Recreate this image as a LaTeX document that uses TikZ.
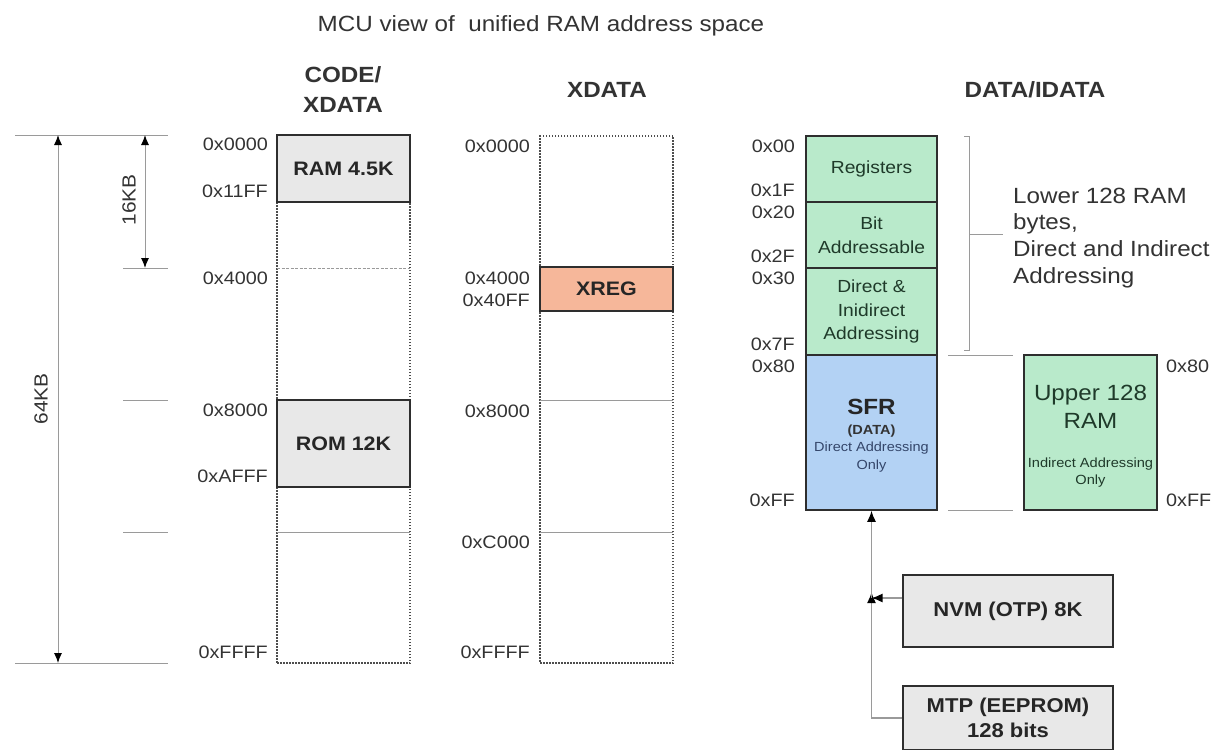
\documentclass[tikz,border=0pt]{standalone}
\usepackage{fontspec}
\setmainfont{Liberation Sans}[FakeStretch=1.1]
\usetikzlibrary{arrows.meta}
\definecolor{txt}{HTML}{333333}
\definecolor{boxgray}{HTML}{E8E8E8}
\definecolor{mint}{HTML}{B9EACB}
\definecolor{sfrblue}{HTML}{B3D2F4}
\definecolor{xregc}{HTML}{F6B79A}
\definecolor{edge}{HTML}{2E2E2E}
\definecolor{guidec}{HTML}{9A9A9A}
\definecolor{sfrtxt}{HTML}{34466A}
\definecolor{grntxt}{HTML}{1F3A2A}
\newcommand\fsz[2]{\fontsize{#1}{#2}\selectfont}
\begin{document}
\begin{tikzpicture}[x=1pt,y=-1pt,
  addrl/.style={anchor=base east,inner sep=0pt,text=txt,font=\fsz{18}{21}},
  addrr/.style={anchor=base west,inner sep=0pt,text=txt,font=\fsz{18}{21}},
  mhead/.style={anchor=base,inner sep=0pt,text=black!80,font=\fsz{22}{26}\bfseries},
  colframe/.style={draw=edge!85,line width=1.5pt,dash pattern=on 1.5pt off 1.5pt,inner sep=0pt,minimum width=133pt},
  memblk/.style={draw=edge,line width=1.5pt,inner sep=0pt,minimum width=133pt,text=black!85,align=center},
  graybox/.style={memblk,fill=boxgray,font=\fsz{19.5}{23}\bfseries},
  greenbox/.style={memblk,fill=mint,minimum width=131pt,text=grntxt,font=\fsz{17.5}{23.5}},
  sepline/.style={draw=guidec,line width=0.9pt},
  guideline/.style={draw=guidec,line width=1pt},
  dimline/.style={draw=guidec,line width=1pt,{Latex[length=10pt,width=8pt,color=black]}-{Latex[length=10pt,width=8pt,color=black]}},
  feedline/.style={draw=guidec,line width=1.5pt,-{Latex[length=11pt,width=9pt,color=black]}},
  mnote/.style={anchor=base west,inner sep=0pt,text=txt,font=\fsz{22}{27}},
  intext/.style={anchor=base,inner sep=0pt},
]
\useasboundingbox[fill=white] (0,0) rectangle (1217,749);

% title
\node[anchor=base,inner sep=0pt,font=\fsz{22}{26},text=txt] (title) at (541,32) {MCU view of\ \ unified RAM address space};

% headings
\node[mhead] (hcode1) at (343,83) {CODE/};
\node[mhead] (hcode2) at (343,113) {XDATA};
\node[mhead] (hxdata) at (607,98) {XDATA};
\node[mhead] (hdata) at (1035,98) {DATA/IDATA};

% left dimensions
\coordinate (dtopl) at (15,135);
\coordinate (dtopr) at (168,135);
\coordinate (dbotl) at (15,663);
\coordinate (dbotr) at (168,663);
\draw[guideline] (dtopl) -- (dtopr);
\draw[guideline] (dbotl) -- (dbotr);
\coordinate (m4l) at (123,268); \coordinate (m4r) at (168,268);
\coordinate (m8l) at (123,400); \coordinate (m8r) at (168,400);
\coordinate (mcl) at (123,532); \coordinate (mcr) at (168,532);
\draw[guideline] (m4l) -- (m4r);
\draw[guideline] (m8l) -- (m8r);
\draw[guideline] (mcl) -- (mcr);
\coordinate (a64t) at (58,135); \coordinate (a64b) at (58,663);
\coordinate (a16t) at (145,135); \coordinate (a16b) at (145,268);
\draw[dimline] (a64t) -- (a64b);
\draw[dimline] (a16t) -- (a16b);
\node[rotate=90,inner sep=0pt,text=txt,font=\fsz{19}{22}] (l64) at (41,399) {64KB};
\node[rotate=90,inner sep=0pt,text=txt,font=\fsz{19}{22}] (l16) at (129,200) {16KB};

% CODE/XDATA column
\node[colframe,minimum height=528pt] (codecol) at (343.5,399) {};
\draw[sepline,dash pattern=on 3pt off 1.5pt] (277,268) -- (410,268);
\draw[sepline] (277,532) -- (410,532);
\node[graybox,minimum height=67pt] (ram) at (343.5,168.5) {RAM 4.5K};
\node[graybox,minimum height=87pt] (rom) at (343.5,443.5) {ROM 12K};
\node[addrl] (c0) at (268,150) {0x0000};
\node[addrl] (c1) at (268,197) {0x11FF};
\node[addrl] (c2) at (268,284) {0x4000};
\node[addrl] (c3) at (268,416) {0x8000};
\node[addrl] (c4) at (268,482) {0xAFFF};
\node[addrl] (c5) at (268,658) {0xFFFF};

% XDATA column
\node[colframe,minimum height=527pt] (xcol) at (606.5,399.5) {};
\draw[sepline] (540,400) -- (673,400);
\draw[sepline] (540,532) -- (673,532);
\node[graybox,fill=xregc,minimum height=44pt] (xreg) at (606.5,289) {XREG};
\node[addrl] (x0) at (530,152) {0x0000};
\node[addrl] (x1) at (530,284) {0x4000};
\node[addrl] (x2) at (530,306) {0x40FF};
\node[addrl] (x3) at (530,417) {0x8000};
\node[addrl] (x4) at (530,548) {0xC000};
\node[addrl] (x5) at (530,658) {0xFFFF};

% DATA/IDATA column
\node[greenbox,minimum height=66pt] (regs) at (871.5,169) {Registers};
\node[greenbox,minimum height=66pt] (bitb) at (871.5,235) {Bit\\Addressable};
\node[greenbox,minimum height=87pt] (dirb) at (871.5,311.5) {Direct \&\\Inidirect\\Addressing};
\node[memblk,fill=sfrblue,minimum width=131pt,minimum height=155pt] (sfr) at (871.5,432.5) {};
\node[intext,font=\fsz{22}{26}\bfseries,text=black!85] (sfr1) at (871.5,414) {SFR};
\node[intext,font=\fsz{13.2}{15}\bfseries,text=black!80] (sfr2) at (871.5,434) {(DATA)};
\node[intext,font=\fsz{13.2}{15},text=sfrtxt] (sfr3) at (871.5,451) {Direct Addressing};
\node[intext,font=\fsz{13.2}{15},text=sfrtxt] (sfr4) at (871.5,469) {Only};

\node[addrl] (d0) at (795,152) {0x00};
\node[addrl] (d1) at (795,196) {0x1F};
\node[addrl] (d2) at (795,218) {0x20};
\node[addrl] (d3) at (795,262) {0x2F};
\node[addrl] (d4) at (795,284) {0x30};
\node[addrl] (d5) at (795,350) {0x7F};
\node[addrl] (d6) at (795,372) {0x80};
\node[addrl] (d7) at (795,506) {0xFF};

% bracket and note
\draw[guideline] (964,136) -- (969,136) -- (969,350) -- (964,350);
\draw[guideline] (969,234) -- (1003,234);
\node[mnote] (n1) at (1013,203) {Lower 128 RAM};
\node[mnote] (n2) at (1013,229.5) {bytes,};
\node[mnote] (n3) at (1013,256) {Direct and Indirect};
\node[mnote] (n4) at (1013,283) {Addressing};

% upper RAM
\draw[guideline] (948,355) -- (1013,355);
\draw[guideline] (948,510) -- (1013,510);
\node[memblk,fill=mint,minimum height=155pt] (upper) at (1090.5,432.5) {};
\node[intext,font=\fsz{22}{26},text=grntxt] (up1) at (1090.5,400) {Upper 128};
\node[intext,font=\fsz{22}{26},text=grntxt] (up2) at (1090.5,428) {RAM};
\node[intext,font=\fsz{13.3}{15},text=grntxt] (up3) at (1090.5,467) {Indirect Addressing};
\node[intext,font=\fsz{13.3}{15},text=grntxt] (up4) at (1090.5,484) {Only};
\node[addrr] (u0) at (1166,372) {0x80};
\node[addrr] (u1) at (1166,506) {0xFF};

% NVM / MTP
\node[graybox,minimum width=210pt,minimum height=72pt,font=\fsz{20}{24}\bfseries] (nvm) at (1008,611) {NVM (OTP) 8K};
\node[graybox,minimum width=210pt,minimum height=64pt,font=\fsz{20}{25}\bfseries] (mtp) at (1008,718) {MTP (EEPROM)\\128 bits};
\coordinate (junc) at (sfr.south |- 0,598);
\draw[feedline] (nvm.west |- junc) -- (junc);
\draw[feedline] (mtp.west) -| ([yshift=6pt]junc);
\draw[feedline] (junc) -- (sfr.south);
\end{tikzpicture}
\end{document}
